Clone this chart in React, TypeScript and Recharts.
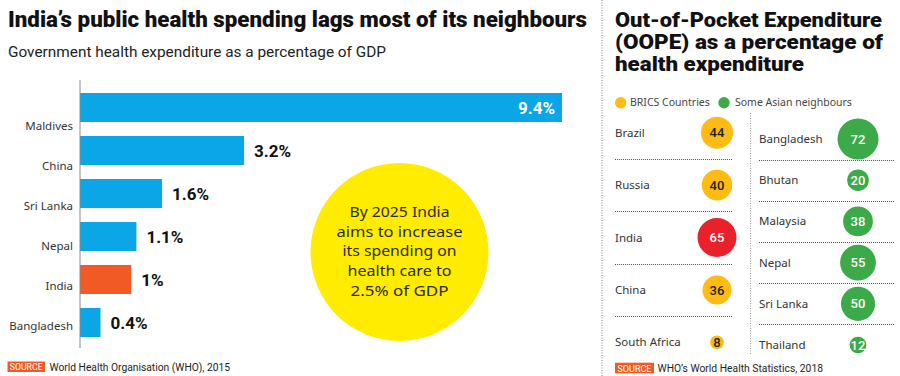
import React from 'react';
import { BarChart, Bar, XAxis, YAxis, Cell, LabelList, ScatterChart, Scatter, ZAxis } from 'recharts';

// left panel: government health expenditure, % of GDP
const gdpCountries = ['Maldives', 'China', 'Sri Lanka', 'Nepal', 'India', 'Bangladesh'];
const gdpShare = [9.4, 3.2, 1.6, 1.1, 1, 0.4];
const gdpLabels = ['9.4%', '3.2%', '1.6%', '1.1%', '1%', '0.4%'];
const focusCountry = 'India';

// right panel: out-of-pocket expenditure, % of health expenditure
const groupNames = ['BRICS Countries', 'Some Asian neighbours'];
const bricsCountries = ['Brazil', 'Russia', 'India', 'China', 'South Africa'];
const bricsOope = [44, 40, 65, 36, 8];
const asianCountries = ['Bangladesh', 'Bhutan', 'Malaysia', 'Nepal', 'Sri Lanka', 'Thailand'];
const asianOope = [72, 20, 38, 55, 50, 12];

const calloutLines = ['By 2025 India', 'aims to increase', 'its spending on', 'health care to', '2.5% of GDP'];

const BLUE = '#0AA6E6';
const ORANGE = '#F15A24';
const YELLOW = '#FDBB13';
const RED = '#E8212B';
const GREEN = '#3CAA48';
const groupColors = [YELLOW, GREEN];

const gdpData = gdpCountries.map((country, i) => ({ country, share: gdpShare[i], label: gdpLabels[i] }));
const bricsData = bricsCountries.map((country, i) => ({ country, value: bricsOope[i], group: groupNames[0] }));
const asianData = asianCountries.map((country, i) => ({ country, value: asianOope[i], group: groupNames[1] }));
const maxOope = Math.max(...bricsOope, ...asianOope);

const labelFont = '"Noto Sans", sans-serif';

const GdpTick = (p: any) => (
  <text x={73} y={p.y} dy={17.5 - 3 * p.index} textAnchor="end" dominantBaseline="central"
    fontFamily={labelFont} fontSize={11.5} fill="#333">
    {p.payload.value}
  </text>
);

const renderGdpLabel = (p: any) => {
  const inside = gdpShare[p.index] === Math.max(...gdpShare);
  const end = Number(p.x) + Number(p.width);
  const cy = Number(p.y) + Number(p.height) / 2;
  return (
    <text x={inside ? end - 7 : end + 10} y={cy} dy="0.36em" textAnchor={inside ? 'end' : 'start'}
      fill={inside ? '#fff' : '#111'} fontFamily="Roboto" fontWeight={700} fontSize={17}>
      {p.value}
    </text>
  );
};

const RowTick = (p: any) => (
  <text x={p.labelX} y={Number(p.y)} dy="0.35em" textAnchor="start" fontFamily={labelFont} fontSize={11.5} fill="#333">
    {p.payload.value}
  </text>
);

// bubble value, plus the dotted rule that closes the row underneath it
const bubbleLabel = (p: any, fill: string, cfg: any) => {
  const cx = Number(p.x) + Number(p.width) / 2;
  const cy = Number(p.y) + Number(p.height) / 2;
  const sep = Math.round(cy + cfg.band / 2) + 0.5;
  return (
    <g>
      <text x={cx} y={cy} dy="0.36em" textAnchor="middle" fontFamily="Roboto" fontWeight={500}
        fontSize={13} fill={fill === YELLOW ? '#222' : '#fff'}>
        {p.value}
      </text>
      {p.index < cfg.count - 1 && (
        <line x1={cfg.labelX} x2={cfg.lineEnd} y1={sep} y2={sep} stroke="#555" strokeWidth={1}
          strokeDasharray="1 1" shapeRendering="crispEdges" />
      )}
    </g>
  );
};

function Bubbles({ data, colorOf, left, labelX, lineEnd, axisW, top, bottom }: any) {
  const cfg = { labelX, lineEnd, band: (376 - top - bottom) / data.length, count: data.length };
  return (
    <div style={{ position: 'absolute', left, top: 0 }}>
      <ScatterChart width={150} height={376} margin={{ top, right: 0, bottom, left: 0 }}>
        <XAxis type="category" dataKey="group" hide allowDuplicatedCategory={false} />
        <YAxis type="category" dataKey="country" width={axisW} reversed axisLine={false} tickLine={false}
          interval={0} tick={<RowTick labelX={labelX} />} />
        <ZAxis type="number" dataKey="value" domain={[0, maxOope]} range={[0, 1320]} />
        <Scatter data={data} isAnimationActive={false}>
          {data.map((d: any) => <Cell key={d.country} fill={colorOf(d)} />)}
          <LabelList dataKey="value" content={(p: any) => bubbleLabel(p, colorOf(data[p.index]), cfg)} />
        </Scatter>
      </ScatterChart>
    </div>
  );
}

export default function App() {
  return (
    <div style={{ position: 'absolute', left: 0, top: 0, width: 900, height: 376, background: '#fff', overflow: 'hidden' }}>
      <div style={{ position: 'absolute', left: 0, top: 80 }}>
        <BarChart width={600} height={268} data={gdpData} layout="vertical" margin={{ top: 0, right: 38, bottom: 0, left: 0 }}>
          <XAxis type="number" hide domain={[0, 'dataMax']} />
          <YAxis type="category" dataKey="country" width={80} axisLine={{ stroke: '#8a8a8a' }} tickLine={false}
            tick={<GdpTick />} interval={0} padding={{ top: 6, bottom: 4 }} />
          <Bar dataKey="share" barSize={29} isAnimationActive={false}>
            {gdpData.map(d => <Cell key={d.country} fill={d.country === focusCountry ? ORANGE : BLUE} />)}
            <LabelList dataKey="label" content={renderGdpLabel} />
          </Bar>
        </BarChart>
      </div>

      <Bubbles data={bricsData} colorOf={(d: any) => (d.country === focusCountry ? RED : YELLOW)}
        left={600} labelX={15} lineEnd={133} axisW={84} top={106.5} bottom={7.5} />
      <Bubbles data={asianData} colorOf={() => GREEN}
        left={750} labelX={9} lineEnd={145} axisW={66} top={118.4} bottom={10.4} />

      <svg width={900} height={376} style={{ position: 'absolute', left: 0, top: 0, pointerEvents: 'none' }}>
        <line x1={602} x2={602} y1={0} y2={376} stroke="#888" strokeDasharray="1 1.5" />
        <line x1={750.5} x2={750.5} y1={113} y2={355} stroke="#999" strokeDasharray="1 1.5" />

        <text x={8} y={27} fontFamily="Roboto" fontWeight={900} fontSize={22} fill="#111"
          textLength={579} lengthAdjust="spacingAndGlyphs">India’s public health spending lags most of its neighbours</text>
        <text x={8} y={57} fontFamily="Roboto" fontSize={15} fill="#222"
          textLength={378} lengthAdjust="spacingAndGlyphs">Government health expenditure as a percentage of GDP</text>

        {['Out-of-Pocket Expenditure', '(OOPE) as a percentage of', 'health expenditure'].map((t, i) => (
          <text key={t} x={615} y={27 + i * 22} fontFamily="Roboto" fontWeight={900} fontSize={20} fill="#111"
            textLength={[267, 268, 189][i]} lengthAdjust="spacingAndGlyphs">{t}</text>
        ))}

        <circle cx={399.5} cy={252} r={89} fill="#FFEC00" />
        {calloutLines.map((t, i) => (
          <text key={t} x={399.5} y={217 + i * 19.7} textAnchor="middle" fontFamily={labelFont}
            fontSize={14.5} fill="#2a2a2a" textLength={[100, 126, 114, 104, 98][i]} lengthAdjust="spacingAndGlyphs">{t}</text>
        ))}

        {groupNames.map((g, i) => (
          <g key={g}>
            <circle cx={[620.7, 724][i]} cy={102.7} r={5.7} fill={groupColors[i]} />
            <text x={[630, 735][i]} y={102.7} dy="0.35em" fontFamily={labelFont} fontSize={10.5} fill="#444">{g}</text>
          </g>
        ))}

        <rect x={7.5} y={361.5} width={37.5} height={10.5} fill={ORANGE} />
        <text x={26.2} y={370.3} textAnchor="middle" fontFamily="Roboto" fontSize={9.5} fill="#fff"
          textLength={33} lengthAdjust="spacingAndGlyphs">SOURCE</text>
        <text x={49.5} y={370.8} fontFamily="Roboto" fontSize={11} fill="#222"
          textLength={180.5} lengthAdjust="spacingAndGlyphs">World Health Organisation (WHO), 2015</text>

        <rect x={615} y={362.7} width={39} height={10.6} fill={ORANGE} />
        <text x={634.5} y={371.5} textAnchor="middle" fontFamily="Roboto" fontSize={9.5} fill="#fff"
          textLength={34} lengthAdjust="spacingAndGlyphs">SOURCE</text>
        <text x={657.5} y={372} fontFamily="Roboto" fontSize={11} fill="#222"
          textLength={165.5} lengthAdjust="spacingAndGlyphs">WHO’s World Health Statistics, 2018</text>
      </svg>
    </div>
  );
}
